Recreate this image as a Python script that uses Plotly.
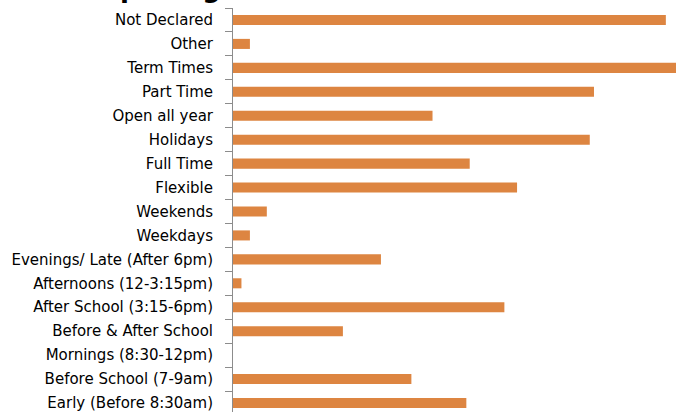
import plotly.graph_objects as go

categories = [
    "Not Declared", "Other", "Term Times", "Part Time", "Open all year",
    "Holidays", "Full Time", "Flexible", "Weekends", "Weekdays",
    "Evenings/ Late (After 6pm)", "Afternoons (12-3:15pm)",
    "After School (3:15-6pm)", "Before & After School",
    "Mornings (8:30-12pm)", "Before School (7-9am)", "Early (Before 8:30am)",
]
values = [51.2, 2.0, 54.0, 42.7, 23.6, 42.2, 28.0, 33.6, 4.0, 2.0,
          17.5, 1.0, 32.1, 13.0, 0.0, 21.1, 27.6]
title_text = "Opening Times"

bar_color = "#DD8541"
axis_color = "#8C8C8C"
font_family = "DejaVu Sans, Open Sans, Arial, sans-serif"

fig = go.Figure(go.Bar(
    x=values, y=categories, orientation="h",
    marker=dict(color=bar_color, line=dict(width=0)),
))

fig.update_layout(
    width=676, height=412,
    margin=dict(l=233, r=0, t=8, b=0, pad=0),
    paper_bgcolor="white", plot_bgcolor="white",
    bargap=0.58,
    showlegend=False,
    hovermode=False,
    font=dict(family=font_family, size=15, color="#000000"),
    xaxis=dict(range=[0, 52.4], visible=False, showgrid=False, zeroline=False),
    yaxis=dict(
        type="category",
        range=[len(categories) - 1 + 0.376, -0.5],
        showline=True, linecolor=axis_color, linewidth=1,
        ticks="outside", tickson="boundaries", ticklen=7,
        tickcolor=axis_color, tickwidth=1,
        showgrid=False, zeroline=False,
        ticklabelstandoff=16,
        tickfont=dict(family=font_family, size=15, color="#000000"),
    ),
    annotations=[dict(
        text="<b>" + title_text + "</b>",
        xref="paper", yref="paper",
        x=(96 - 233) / 443, y=1 + 3 / 404,
        xanchor="left", yanchor="bottom",
        showarrow=False,
        font=dict(family=font_family, size=26, color="#000000"),
    )],
)

fig.write_html(
    "out.html",
    config={"displayModeBar": False},
    post_script="document.body.style.margin='0';document.body.style.overflow='hidden';",
)
